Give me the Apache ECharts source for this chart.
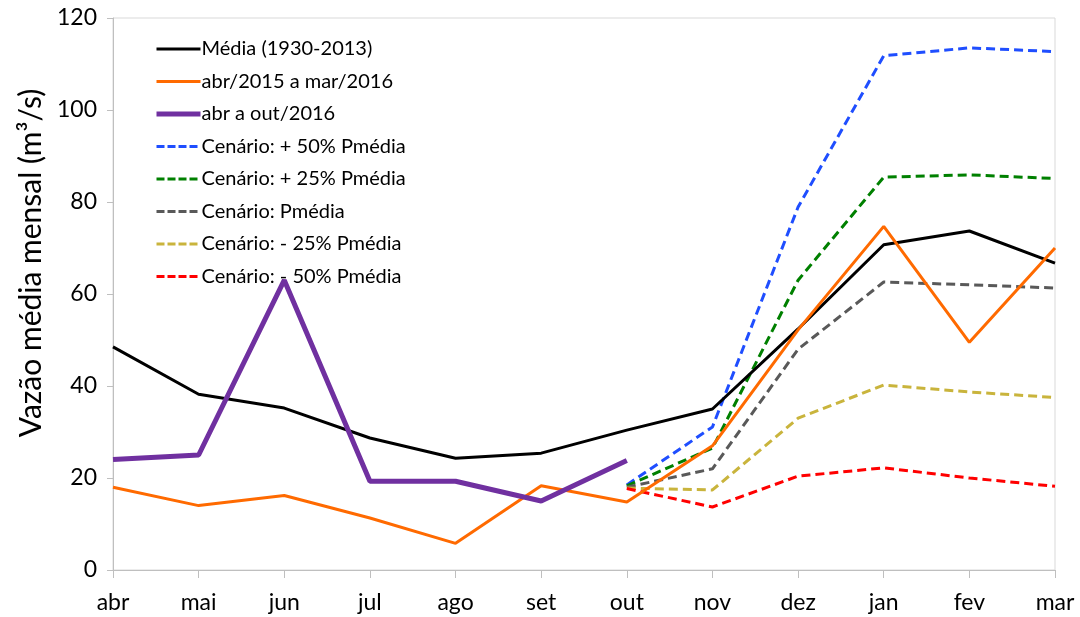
<!DOCTYPE html>
<html><head><meta charset="utf-8">
<script src="https://cdn.jsdelivr.net/npm/echarts@6/dist/echarts.min.js"></script>
<style>html,body{margin:0;padding:0;background:#fff}#c{width:1080px;height:617px}</style>
</head><body><div id="c"></div>
<script>
var months = ['abr','mai','jun','jul','ago','set','out','nov','dez','jan','fev','mar'];
var media = [48.5, 38.2, 35.2, 28.7, 24.3, 25.4, 30.4, 35.0, 52.4, 70.7, 73.7, 66.7];
var ano2015 = [18.0, 14.0, 16.2, 11.3, 5.8, 18.3, 14.8, 27.0, 52.2, 74.7, 49.5, 70.0];
var ano2016 = [24.0, 25.0, 63.0, 19.3, 19.3, 15.0, 23.8, null, null, null, null, null];
var mais50 = [null, null, null, null, null, null, 18.5, 31.1, 78.9, 111.8, 113.5, 112.7];
var mais25 = [null, null, null, null, null, null, 18.3, 26.5, 63.0, 85.4, 85.9, 85.1];
var pmedia = [null, null, null, null, null, null, 18.0, 22.0, 48.0, 62.6, 62.0, 61.3];
var menos25 = [null, null, null, null, null, null, 17.8, 17.4, 33.0, 40.2, 38.7, 37.5];
var menos50 = [null, null, null, null, null, null, 17.7, 13.7, 20.4, 22.2, 20.0, 18.2];
var yTicks = [0, 20, 40, 60, 80, 100, 120];

var font = 'Lato, Open Sans, sans-serif';
var seriesDefs = [
  ['Média (1930-2013)', media, '#000000', 3, false],
  ['abr/2015 a mar/2016', ano2015, '#ff6a00', 3, false],
  ['abr a out/2016', ano2016, '#7030a0', 5, false],
  ['Cenário: + 50% Pmédia', mais50, '#1f4eff', 3, true],
  ['Cenário: + 25% Pmédia', mais25, '#008000', 3, true],
  ['Cenário: Pmédia', pmedia, '#595959', 3, true],
  ['Cenário: - 25% Pmédia', menos25, '#c9b43c', 3, true],
  ['Cenário: - 50% Pmédia', menos50, '#ff0000', 3, true]
];
var series = seriesDefs.map(function (d) {
  return {
    name: d[0], type: 'line', data: d[1], symbol: 'none', showSymbol: false,
    lineStyle: {color: d[2], width: d[3], type: d[4] ? [9, 5] : 'solid'},
    itemStyle: {color: d[2]}, z: d[4] ? 2 : 3
  };
});
var legendData = seriesDefs.map(function (d) {
  return {
    name: d[0],
    itemStyle: {opacity: 0},
    lineStyle: {color: d[2], width: d[3], type: d[4] ? [8, 3] : 'solid', opacity: 1}
  };
});
var chart = echarts.init(document.getElementById('c'));
chart.setOption({
  animation: false,
  grid: {left: 113, right: 25, top: 18, bottom: 47, show: true, borderColor: '#d9d9d9', borderWidth: 1,
         containLabel: false, outerBoundsMode: 'none'},
  legend: {
    orient: 'vertical', left: 149, top: 34, itemWidth: 44, itemHeight: 14, itemGap: 12.5,
    textStyle: {fontFamily: font, fontSize: 20, color: '#000', padding: [0,0,0,-4]},
    data: legendData
  },
  xAxis: {
    type: 'category', data: months, boundaryGap: false,
    axisLine: {lineStyle: {color: '#bfbfbf', width: 1}},
    axisTick: {show: true, length: 8, lineStyle: {color: '#bfbfbf'}},
    axisLabel: {fontFamily: font, fontSize: 23, color: '#000', margin: 21}
  },
  yAxis: {
    type: 'value', min: yTicks[0], max: yTicks[yTicks.length - 1], interval: 20,
    name: 'Vazão média mensal (m³/s)', nameLocation: 'middle', nameGap: 67,
    nameTextStyle: {fontFamily: font, fontSize: 30, color: '#000', padding: [0, 0, 0, 62]},
    axisLine: {show: true, lineStyle: {color: '#bfbfbf', width: 1}},
    axisTick: {show: true, length: 6, lineStyle: {color: '#bfbfbf'}},
    splitLine: {show: false},
    axisLabel: {fontFamily: font, fontSize: 23, color: '#000', margin: 16}
  },
  series: series
});
</script></body></html>
